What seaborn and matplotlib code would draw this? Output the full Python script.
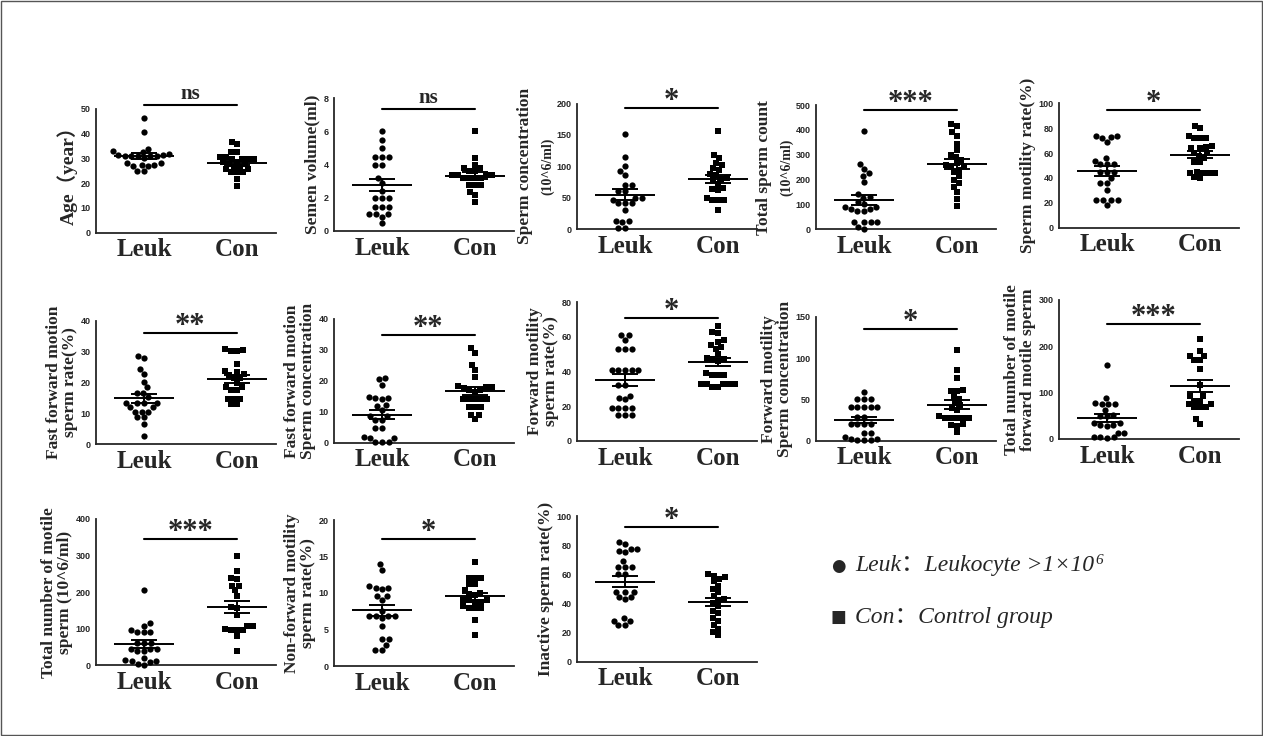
import numpy as np
import pandas as pd
import matplotlib
matplotlib.use("Agg")
import matplotlib.pyplot as plt
import seaborn as sns
from matplotlib.patches import Rectangle

sns.set_style("white")
plt.rcParams['font.family'] = ['Liberation Serif', 'Noto Sans CJK SC', 'DejaVu Sans']

groups = ["Leuk", "Con"]

# values, one list per group and panel
age_leuk = [46.5, 40.7, 34, 33, 32.5, 32, 31.5, 31.5, 31, 31, 31, 31, 31, 30, 28, 28, 27.5, 27.5, 27, 27, 25, 25]
age_con = [36.8, 35.7, 32.7, 32.7, 30.7, 30.7, 29.8, 29.8, 29.8, 29.8, 28.7, 28.7, 27.8, 27.8, 26.7, 26.7,
           25.7, 25.7, 24.7, 24.7, 24.7, 21.6, 18.9]
vol_leuk = [6.0, 5.5, 5.0, 4.46, 4.46, 4.46, 4.0, 4.0, 3.2, 2.9, 2.4, 1.96, 1.96, 1.96, 1.46, 1.46, 1.46,
            1.0, 1.0, 1.0, 0.86, 0.46]
vol_con = [6.0, 4.4, 3.96, 3.8, 3.8, 3.6, 3.6, 3.36, 3.36, 3.36, 3.36, 3.2, 3.2, 3.2, 3.2, 2.8, 2.8, 2.8,
           2.36, 2.2, 1.76]
conc_leuk = [151, 115, 100, 92, 86, 70, 70, 61, 60, 50, 50, 47, 42, 42, 42, 30, 13, 13, 11, 2, 2]
conc_con = [156, 118, 113, 105, 102, 97, 94, 88, 86, 82, 80, 78, 72, 66, 64, 62, 50, 46, 46, 46, 30]
count_leuk = [397, 262, 241, 225, 215, 190, 140, 130, 125, 110, 100, 90, 80, 80, 74, 74, 90, 30, 30, 30, 30, 11, 2]
count_con = [423, 415, 390, 375, 345, 320, 300, 290, 280, 265, 258, 255, 250, 240, 230, 215, 200, 185, 170,
             150, 120, 92]
mot_leuk = [74, 74, 73, 72, 69, 56, 54, 51, 51, 51, 45, 45, 45, 40, 36, 36, 30, 22, 22, 22, 22, 18]
mot_con = [82, 80, 74, 72, 72, 72, 66, 65, 64, 64, 60, 60, 58, 56, 53, 53, 45, 44, 44, 44, 44, 41, 40]
ffr_leuk = [28.5, 28, 24.3, 22.7, 20.3, 18.4, 16.7, 16.7, 15.2, 13.5, 13.5, 13.5, 13.5, 12, 12, 10.6, 10.6,
            10.6, 8.7, 8.7, 6.6, 2.7]
ffr_con = [30.7, 30.5, 30.3, 30.3, 26, 23.8, 23.5, 22.7, 22.4, 21.3, 21.3, 19.7, 18.7, 18.7, 17.6, 17.6,
           14.6, 14.6, 14.6, 13, 13]
ffc_leuk = [20.8, 20.5, 18.7, 14.9, 14.3, 14.3, 14.0, 12.2, 11.9, 10.5, 8.6, 8.6, 7.5, 7.5, 4.6, 4.6, 1.9,
            1.4, 1.4, 0.3, 0.3, 0.3]
ffc_con = [30.5, 29.1, 25.1, 23.5, 21.1, 18.3, 18.1, 17.9, 17.6, 17.2, 17.2, 16.5, 14.1, 14.1, 14.1, 14.1,
           14.1, 11.4, 11.4, 11.4, 9.0, 9.0, 7.7]
fr_leuk = [61, 61, 58, 53, 53, 53, 41, 41, 41, 41, 41, 32, 32, 26, 25, 24, 19, 19, 19, 19, 15, 15, 15]
fr_con = [66, 63, 62, 58, 57, 55, 54, 53, 50, 48, 47, 47, 46, 39, 38, 38, 38, 33, 33, 33, 33, 33, 31, 31]
fc_leuk = [58.5, 50, 50, 50, 41, 41, 41, 41, 41, 29, 29, 20, 20, 20, 20, 9.7, 9.7, 4.8, 2, 1, 1, 1, 1.5]
fc_con = [110, 85.5, 76.6, 62, 60, 60, 53, 50, 46, 43, 40, 37, 30, 28, 28, 27, 28, 28, 20, 18, 19, 11]
tfm_leuk = [160, 88, 78, 76, 75, 75, 63, 52, 50, 50, 34, 30, 34, 30, 28, 14, 14, 5, 4, 4, 3]
tfm_con = [215, 190, 180, 180, 171, 171, 151, 117, 93, 93, 83, 76, 70, 70, 70, 76, 83, 43, 33]
tm_leuk = [207, 115, 108, 98, 92, 90, 92, 60, 62, 62, 45, 45, 45, 38, 38, 20, 15, 13, 13, 2, 5, 10]
tm_con = [300, 259, 240, 235, 218, 218, 205, 190, 160, 156, 138, 108, 100, 97, 97, 108, 97, 81, 40]
nf_leuk = [14.0, 13.2, 10.9, 10.7, 10.7, 10.5, 9.6, 9.6, 9.0, 7.5, 6.9, 6.9, 6.9, 6.9, 6.6, 5.5, 3.7, 3.7,
           2.9, 2.2, 2.2]
nf_con = [14.3, 12.1, 12.1, 12.1, 11.2, 11.2, 10.4, 10.0, 9.9, 9.7, 9.0, 9.0, 8.8, 8.8, 9.0, 8.0, 8.0, 8.0,
          8.2, 6.3, 4.2]
ina_leuk = [81.8, 80.8, 77, 77, 76, 75, 69, 65, 65, 65, 60, 60, 48, 48, 48, 44, 44, 43, 30, 28, 28, 25, 25]
ina_con = [60, 59, 58, 57, 55, 52, 50, 48, 45, 43, 42, 40, 38, 35, 33, 30, 28, 25, 22, 20, 18]

ylabels = ["Age（year）", "Semen volume(ml)", "Sperm concentration", "Total sperm count",
           "Sperm motility rate(%)",
           "Fast forward motion\nsperm rate(%)", "Fast forward motion\nSperm concentration",
           "Forward motility\nsperm rate(%)", "Forward motility\nSperm concentration",
           "Total number of motile\nforward motile sperm",
           "Total number of motile\nsperm (10^6/ml)", "Non-forward motility\nsperm rate(%)",
           "Inactive sperm rate(%)"]
sublabels = [None, None, "(10^6/ml)", "(10^6/ml)", None, None, None, None, None, None, None, None, None]
ymax = [50, 8, 200, 500, 100, 40, 40, 80, 150, 300, 400, 20, 100]
ystep = [10, 2, 50, 100, 20, 10, 10, 20, 50, 100, 100, 5, 20]
sig = ["ns", "ns", "*", "***", "*", "**", "**", "*", "*", "***", "***", "*", "*"]
bar_y = [51.7, 7.35, 193, 480, 94.6, 35.9, 34.8, 70.7, 135, 248, 345, 17.4, 92.5]

data = [(age_leuk, age_con), (vol_leuk, vol_con), (conc_leuk, conc_con), (count_leuk, count_con),
        (mot_leuk, mot_con), (ffr_leuk, ffr_con), (ffc_leuk, ffc_con), (fr_leuk, fr_con),
        (fc_leuk, fc_con), (tfm_leuk, tfm_con), (tm_leuk, tm_con), (nf_leuk, nf_con),
        (ina_leuk, ina_con)]

# layout in pixels: left spine x, top of y axis, x axis y
W, H = 1263, 736
AXW = 180
boxes = [(96, 109, 232.7), (334, 98.3, 231), (577, 103.6, 229), (816, 105, 229.3), (1059, 103.3, 227.7),
         (96, 320.7, 444.3), (334, 319, 442.7), (577, 302, 441), (816, 317, 440.7), (1059, 300, 439),
         (96, 519, 665.4), (334, 520, 666), (577, 516, 661.5)]

fig = plt.figure(figsize=(W / 100, H / 100), dpi=100)

for i, (leuk, con) in enumerate(data):
    left, top, bot = boxes[i]
    ax = fig.add_axes([left / W, 1 - bot / H, AXW / W, (bot - top) / H])
    df = pd.DataFrame({"group": ["Leuk"] * len(leuk) + ["Con"] * len(con),
                       "value": list(leuk) + list(con)})
    sns.swarmplot(data=df[df.group == "Leuk"], x="group", y="value", order=groups,
                  marker="o", color="black", size=4.5, linewidth=0, ax=ax)
    sns.swarmplot(data=df[df.group == "Con"], x="group", y="value", order=groups,
                  marker="s", color="black", size=4.1, linewidth=0, ax=ax)
    for c in ax.collections:
        c.set_clip_on(False)

    for k, vals in enumerate([leuk, con]):
        m = np.mean(vals)
        se = np.std(vals, ddof=1) / np.sqrt(len(vals))
        ax.hlines(m, k - 0.32, k + 0.32, color="black", lw=1.4, zorder=5)
        ax.hlines([m - se, m + se], k - 0.14, k + 0.14, color="black", lw=1.4, zorder=5)
        ax.vlines(k, m - se, m + se, color="black", lw=1.4, zorder=5)

    ax.set_xlim(-0.516, 1.42)
    ax.set_ylim(0, ymax[i])
    ax.set_yticks(np.arange(0, ymax[i] + ystep[i] / 2, ystep[i]))
    ax.set_xlabel("")
    ax.set_ylabel(ylabels[i], fontsize=14 if i == 0 else 12.5, fontweight="bold",
                  linespacing=0.95, labelpad=2)
    sns.despine(ax=ax)
    for s in ["left", "bottom"]:
        ax.spines[s].set_linewidth(1.3)
    ax.tick_params(axis="both", direction="out", length=3, width=1.2, color="black", pad=1)
    for lab in ax.get_yticklabels():
        lab.set_fontfamily("Liberation Sans")
        lab.set_fontweight("bold")
        lab.set_fontsize(6.5)
    for lab in ax.get_xticklabels():
        lab.set_fontweight("bold")
        lab.set_fontsize(18)
    ax.tick_params(axis="x", pad=1)

    if sublabels[i]:
        ax.yaxis.labelpad = 17
        ax.annotate(sublabels[i], xy=(0, 0.5), xycoords="axes fraction", xytext=(-29, 0),
                    textcoords="offset pixels", rotation=90, ha="center", va="center",
                    fontsize=10, fontweight="bold")

    ax.plot([0, 1], [bar_y[i], bar_y[i]], color="black", lw=1.5, clip_on=False)
    if sig[i] == "ns":
        ax.annotate(sig[i], xy=(0.5, bar_y[i]), xytext=(0, 1), textcoords="offset pixels",
                    ha="center", va="bottom", fontsize=15, fontweight="bold", annotation_clip=False)
    else:
        ax.annotate(sig[i], xy=(0.5, bar_y[i]), xytext=(0, -8), textcoords="offset pixels",
                    ha="center", va="bottom", fontsize=22, fontweight="bold", annotation_clip=False)

# legend
fig.text(838 / W, 1 - 566 / H, "●", family="DejaVu Sans", fontsize=12, ha="center", va="center")
fig.text(838 / W, 1 - 617 / H, "■", family="DejaVu Sans", fontsize=12, ha="center", va="center")
t1 = fig.text(855 / W, 1 - 566 / H, "Leuk：Leukocyte >1×10", style="italic", fontsize=17, va="center")
fig.text(855 / W, 1 - 617 / H, "Con：Control group", style="italic", fontsize=17, va="center")
fig.canvas.draw()
bb = t1.get_window_extent()
fig.text((bb.x1 + 1) / W, (bb.y1 - 5) / H, "6", style="italic", fontsize=11, va="center")

fig.add_artist(Rectangle((0.001, 0.001), 0.998, 0.997, transform=fig.transFigure, fill=False,
                         edgecolor="#555555", lw=1))

fig.savefig("out.png", dpi=100)
